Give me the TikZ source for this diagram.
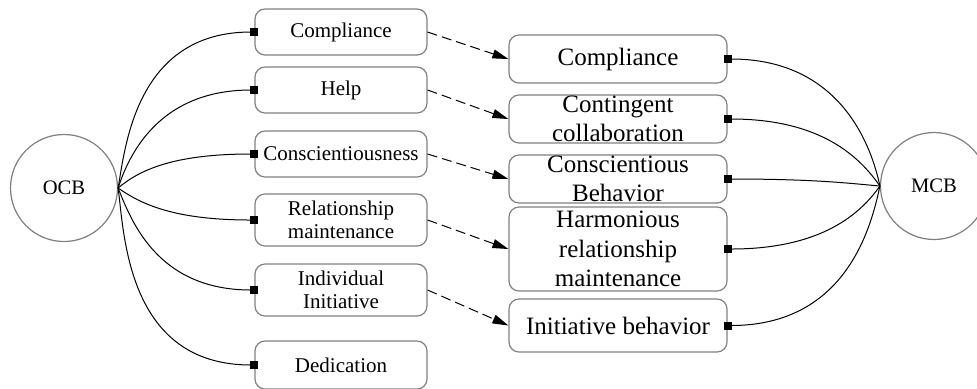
\documentclass[tikz,border=0pt]{standalone}
\usepackage{fontspec}
\setmainfont{Liberation Serif}
\usetikzlibrary{arrows.meta}

\tikzset{
  item/.style={draw=gray,line width=0.6pt,rounded corners=5pt,inner sep=0pt,align=center,
    minimum width=86pt,minimum height=23pt,font=\fontsize{10.5}{11.5}\selectfont},
  mitem/.style={item,minimum width=109pt,minimum height=24pt,font=\fontsize{12.5}{14.8}\selectfont},
  factor/.style={circle,draw=gray,line width=0.6pt,minimum size=53.5pt,inner sep=0pt,
    font=\fontsize{10.3}{12}\selectfont},
  link/.style={line width=0.5pt,out looseness=0.5,in looseness=1.5,-{Square[length=4pt,width=4pt]}},
  back/.style={line width=0.5pt,out looseness=1.5,in looseness=0.5,{Square[length=4pt,width=4pt]}-},
  map/.style={line width=0.5pt,dash pattern=on 5pt off 2.5pt,-{Triangle[length=8pt,width=4.5pt]}}
}

\begin{document}
\begin{tikzpicture}[x=0.5pt,y=-0.5pt]
\useasboundingbox (0,0) rectangle (977,388);
\node[factor] (ocb) at (64,188) {OCB};
\node[factor] (mcb) at (934,186) {MCB};
\node[item] (c) at (341,32) {Compliance};
\node[item] (h) at (341,90) {Help};
\node[item] (cs) at (341,154) {Conscientiousness};
\node[item,minimum height=26pt] (rm) at (341,220) {Relationship\\maintenance};
\node[item,minimum height=26pt] (ii) at (341,290) {Individual\\Initiative};
\node[item,minimum height=24pt] (d) at (341,365) {Dedication};
\node[mitem] (mc) at (618,59) {Compliance};
\node[mitem] (cc) at (618,119) {Contingent\\collaboration};
\node[mitem] (cb) at (618,179) {Conscientious\\Behavior};
\node[mitem,minimum height=42pt] (hr) at (618,249) {Harmonious\\relationship\\maintenance};
\node[mitem,minimum height=26.5pt] (ib) at (618,325.5) {Initiative behavior};
\draw[link] (ocb.east) to[out=80,in=180] ([xshift=2pt]c.west);
\draw[link] (ocb.east) to[out=72,in=180] ([xshift=2pt]h.west);
\draw[link] (ocb.east) to[out=40,in=180] ([xshift=2pt]cs.west);
\draw[link] (ocb.east) to[out=-35,in=180] ([xshift=2pt]rm.west);
\draw[link] (ocb.east) to[out=-68,in=180] ([xshift=2pt]ii.west);
\draw[link] (ocb.east) to[out=-82,in=180] ([xshift=2pt]d.west);
\draw[back] ([xshift=-2pt]mc.east) to[out=0,in=102] (mcb.west);
\draw[back] ([xshift=-2pt]cc.east) to[out=0,in=125] (mcb.west);
\draw[back] ([xshift=-2pt]cb.east) to[out=0,in=175] (mcb.west);
\draw[back] ([xshift=-2pt]hr.east) to[out=0,in=-125] (mcb.west);
\draw[back] ([xshift=-2pt]ib.east) to[out=0,in=-102] (mcb.west);
\foreach \a/\b in {c/mc,h/cc,cs/cb,rm/hr,ii/ib}
  \draw[map] (\a.east) -- (\b.west);
\end{tikzpicture}
\end{document}
